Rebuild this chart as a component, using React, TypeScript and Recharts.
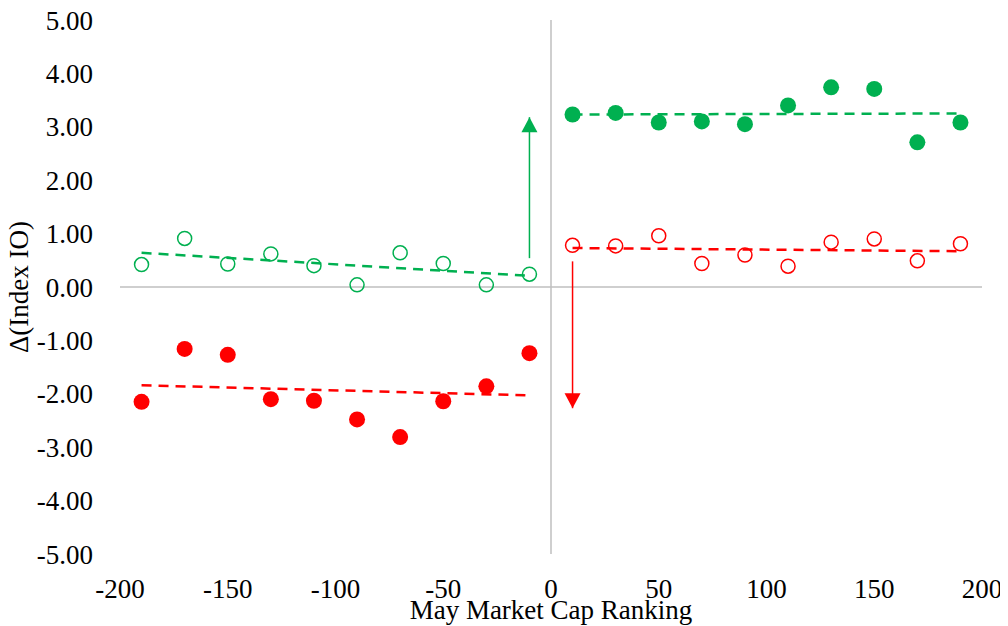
import React from 'react';
import { ScatterChart, Scatter, XAxis, YAxis, ReferenceLine } from 'recharts';

const FONT = '"Liberation Serif", "Times New Roman", serif';
const GREEN = '#00B050';
const RED = '#FF0000';
const AXIS_GRAY = '#BFBFBF';
const TEXT = '#000000';

// Tick labels
const xTicks = [-200, -150, -100, -50, 0, 50, 100, 150, 200];
const yTicks = [-5, -4, -3, -2, -1, 0, 1, 2, 3, 4, 5];

// Categories (May market cap ranking buckets)
const leftRanks = [-190, -170, -150, -130, -110, -90, -70, -50, -30, -10];
const rightRanks = [10, 30, 50, 70, 90, 110, 130, 150, 170, 190];

// Series values
const openGreenLeft = [0.42, 0.91, 0.43, 0.62, 0.4, 0.04, 0.64, 0.44, 0.04, 0.24];
const filledRedLeft = [-2.15, -1.16, -1.27, -2.1, -2.13, -2.48, -2.81, -2.14, -1.86, -1.24];
const filledGreenRight = [3.23, 3.26, 3.08, 3.1, 3.05, 3.4, 3.74, 3.71, 2.71, 3.08];
const openRedRight = [0.78, 0.77, 0.96, 0.44, 0.6, 0.39, 0.84, 0.9, 0.49, 0.81];

// Trend lines (end points)
const trendGreenLeftX = [-190, -10];
const trendGreenLeftY = [0.64, 0.21];
const trendRedLeftX = [-190, -10];
const trendRedLeftY = [-1.84, -2.03];
const trendGreenRightX = [10, 190];
const trendGreenRightY = [3.23, 3.25];
const trendRedRightX = [10, 190];
const trendRedRightY = [0.73, 0.67];

// Arrows (start, tip)
const arrowUpX = [-10, -10];
const arrowUpY = [0.54, 3.18];
const arrowDownX = [10, 10];
const arrowDownY = [0.48, -2.27];

const toPoints = (xs: number[], ys: number[]) => xs.map((x, i) => ({ x, y: ys[i] }));

const hollow = (color: string) => (props: any) =>
  props.cx == null ? <g /> : (
    <circle cx={props.cx} cy={props.cy} r={7} fill="none" stroke={color} strokeWidth={1.5} />
  );
const filled = (color: string) => (props: any) =>
  props.cx == null ? <g /> : <circle cx={props.cx} cy={props.cy} r={8} fill={color} />;
const noMark = () => <g />;
const headUp = (color: string) => (props: any) =>
  props.cx == null ? <g /> : (
    <polygon
      points={`${props.cx},${props.cy} ${props.cx - 8},${props.cy + 15} ${props.cx + 8},${props.cy + 15}`}
      fill={color}
    />
  );
const headDown = (color: string) => (props: any) =>
  props.cx == null ? <g /> : (
    <polygon
      points={`${props.cx},${props.cy} ${props.cx - 8},${props.cy - 15} ${props.cx + 8},${props.cy - 15}`}
      fill={color}
    />
  );

const dash = (color: string) => ({ stroke: color, strokeWidth: 2.5, strokeDasharray: '10 7' });

export default function App() {
  const upPts = toPoints(arrowUpX, arrowUpY);
  const downPts = toPoints(arrowDownX, arrowDownY);
  return (
    <div style={{ width: 1000, height: 618 }}>
      <ScatterChart
        width={1000}
        height={618}
        margin={{ top: 12, right: 26, bottom: 0, left: 0 }}
        style={{ fontFamily: FONT }}
      >
        <XAxis
          type="number"
          dataKey="x"
          domain={[-200, 200]}
          ticks={xTicks}
          interval={0}
          allowDataOverflow
          axisLine={false}
          tickLine={false}
          tickMargin={19}
          height={72}
          tick={{ fontSize: 27, fill: TEXT, fontFamily: FONT }}
          label={{
            value: 'May Market Cap Ranking',
            position: 'insideBottom',
            offset: 7,
            fill: TEXT,
            fontSize: 27,
            fontFamily: FONT,
          }}
        />
        <YAxis
          type="number"
          dataKey="y"
          domain={[-5, 5]}
          ticks={yTicks}
          interval={0}
          allowDataOverflow
          axisLine={false}
          tickLine={false}
          width={112}
          tickMargin={21}
          tickFormatter={(v: number) => v.toFixed(2)}
          tick={{ fontSize: 27, fill: TEXT, fontFamily: FONT }}
          label={{
            value: 'Δ(Index IO)',
            angle: -90,
            position: 'insideLeft',
            offset: 10,
            fill: TEXT,
            fontSize: 27,
            fontFamily: FONT,
            style: { textAnchor: 'middle' },
          }}
        />
        <ReferenceLine y={0} stroke={AXIS_GRAY} strokeWidth={1.5} />
        <ReferenceLine x={0} stroke={AXIS_GRAY} strokeWidth={1.5} />

        <Scatter data={toPoints(trendGreenLeftX, trendGreenLeftY)} line={dash(GREEN)} lineType="joint" shape={noMark} isAnimationActive={false} />
        <Scatter data={toPoints(trendRedLeftX, trendRedLeftY)} line={dash(RED)} lineType="joint" shape={noMark} isAnimationActive={false} />
        <Scatter data={toPoints(trendGreenRightX, trendGreenRightY)} line={dash(GREEN)} lineType="joint" shape={noMark} isAnimationActive={false} />
        <Scatter data={toPoints(trendRedRightX, trendRedRightY)} line={dash(RED)} lineType="joint" shape={noMark} isAnimationActive={false} />

        <Scatter data={upPts} line={{ stroke: GREEN, strokeWidth: 1.5 }} lineType="joint" shape={noMark} isAnimationActive={false} />
        <Scatter data={upPts.slice(-1)} shape={headUp(GREEN)} isAnimationActive={false} />
        <Scatter data={downPts} line={{ stroke: RED, strokeWidth: 1.5 }} lineType="joint" shape={noMark} isAnimationActive={false} />
        <Scatter data={downPts.slice(-1)} shape={headDown(RED)} isAnimationActive={false} />

        <Scatter data={toPoints(leftRanks, openGreenLeft)} shape={hollow(GREEN)} isAnimationActive={false} />
        <Scatter data={toPoints(leftRanks, filledRedLeft)} shape={filled(RED)} isAnimationActive={false} />
        <Scatter data={toPoints(rightRanks, filledGreenRight)} shape={filled(GREEN)} isAnimationActive={false} />
        <Scatter data={toPoints(rightRanks, openRedRight)} shape={hollow(RED)} isAnimationActive={false} />
      </ScatterChart>
    </div>
  );
}
